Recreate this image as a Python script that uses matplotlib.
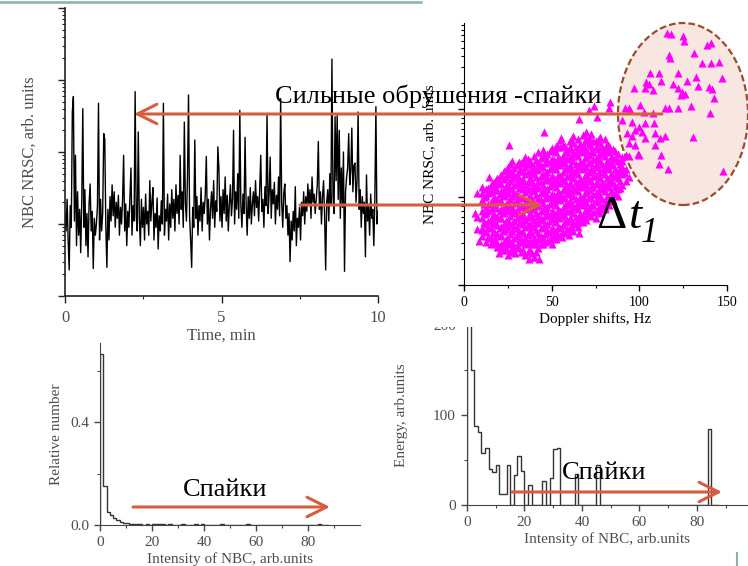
import numpy as np
import matplotlib
matplotlib.use("Agg")
import matplotlib.pyplot as plt
from matplotlib.patches import Ellipse, Rectangle, FancyArrowPatch
from matplotlib.lines import Line2D
from matplotlib.ticker import NullFormatter, MultipleLocator, FixedLocator

plt.rcParams["font.family"] = ["Liberation Serif", "DejaVu Serif"]

# NBC NRSC record, 300 samples over 10 min (arb. units, log axis)
nbc_time = [
    14, 8, 22, 6, 2.3, 18, 9, 360, 590, 11, 90, 5, 28, 7, 16, 4, 20, 400, 9, 30,
    5, 14, 3.5, 19, 36, 8, 15, 2.4, 12, 7,
    10, 18, 475, 6, 22, 8, 14, 180, 150, 9, 2.5, 16, 6, 24, 11, 35, 13, 28, 9, 20,
    12, 25, 7, 17, 10, 22, 90, 8, 19, 5,
    15, 9, 24, 60, 7, 18, 11, 690, 13, 8, 190, 12, 5, 22, 9, 17, 6, 26, 10, 15,
    7, 40, 11, 20, 32, 6, 14, 9, 23, 4.5,
    13, 8, 21, 10, 475, 7, 16, 11, 26, 6, 19, 9, 30, 12, 22, 8, 35, 14, 25, 10,
    90, 16, 28, 9, 260, 20, 11, 45, 620, 13,
    6, 2.5, 17, 9, 147, 12, 24, 7, 18, 11, 32, 8, 20, 14, 26, 87, 10, 22, 6, 16,
    28, 12, 40, 9, 21, 15, 118, 60, 11, 24,
    9, 30, 14, 45, 11, 25, 8, 19, 35, 13, 22, 200, 10, 28, 16, 50, 12, 380, 18, 9,
    26, 14, 160, 20, 7, 24, 12, 32, 10, 19,
    28, 13, 40, 17, 24, 11, 30, 90, 15, 22, 9, 33, 18, 345, 14, 26, 85, 12, 30, 19,
    38, 10, 25, 16, 45, 13, 550, 20, 9, 27,
    36, 12, 18, 7, 14, 3.0, 11, 6, 15, 8, 33, 5, 12, 9, 17, 6, 20, 13, 28, 10,
    24, 15, 36, 18, 30, 12, 45, 20, 26, 14,
    22, 35, 140, 16, 28, 10, 24, 40, 13, 2.3, 20, 30, 11, 50, 18, 1950, 25, 14, 310, 40,
    325, 22, 200, 12, 60, 17, 100, 2.2, 28, 45,
    60, 180, 35, 55, 215, 28, 65, 70, 20, 40, 360, 16, 30, 9, 24, 14, 20, 3.5, 48, 11,
    18, 7, 26, 12, 16, 5, 22, 425, 10, 15,
]
time_min = np.linspace(0, 10, len(nbc_time))

# main cloud of the scatter: Doppler shift (Hz) -> NBC NRSC values
blob_columns = {
    7.5: [4.3, 6.0],
    10.3: [3.6, 4.4, 5.8, 7.0, 9.2, 11.0],
    12.4: [3.1, 4.1, 4.9, 6.5, 7.7, 10.3, 12.2],
    15.2: [2.9, 3.4, 4.6, 5.5, 7.3, 8.7, 11.5, 13.8],
    17.4: [3.3, 3.9, 5.1, 6.1, 8.1, 9.8, 12.9, 15.4],
    20.3: [2.7, 3.6, 4.4, 5.8, 6.9, 9.1, 10.9, 14.5, 17.4],
    22.6: [2.5, 3.1, 4.1, 4.9, 6.5, 7.7, 10.3, 12.3, 16.2, 19.5],
    25.1: [2.2, 2.9, 3.4, 4.6, 5.4, 7.3, 8.7, 11.5, 13.8, 18.2, 21.8],
    27.3: [2.6, 3.1, 4.1, 4.9, 6.5, 7.7, 10.3, 12.2, 16.3, 19.4, 25.5],
    30.2: [2.8, 3.6, 4.4, 5.8, 6.9, 9.1, 10.9, 14.5, 17.3, 23.0],
    32.6: [2.4, 3.3, 3.9, 5.2, 6.1, 8.1, 9.7, 12.9, 15.4, 20.5, 24.4],
    34.8: [2.2, 2.9, 3.4, 4.6, 5.5, 7.3, 8.6, 11.5, 13.7, 18.3, 21.7, 28.8],
    37.6: [2.5, 3.2, 4.1, 4.9, 6.5, 7.7, 10.3, 12.2, 16.3, 19.4, 25.8],
    40.1: [2.1, 2.9, 3.4, 4.6, 5.5, 7.3, 8.6, 11.6, 13.7, 18.4, 21.7, 29],
    42.4: [2.6, 3.3, 3.9, 5.2, 6.1, 8.2, 9.7, 13, 15.4, 20.6, 24.3, 32.5],
    45.2: [2.9, 3.4, 4.6, 5.5, 7.3, 8.6, 11.6, 13.7, 18.4, 21.7, 29, 34.4],
    47.3: [3.2, 4.1, 4.9, 6.5, 7.7, 10.3, 12.2, 16.4, 19.3, 25.9, 30.6],
    50.1: [2.9, 3.6, 4.4, 5.8, 6.9, 9.2, 10.8, 14.6, 17.2, 23.1, 27.3, 36.5],
    52.7: [3.3, 3.9, 5.2, 6.1, 8.2, 9.7, 13, 15.3, 20.6, 24.3, 32.7, 38.5],
    54.9: [3.6, 4.4, 5.8, 6.9, 9.2, 10.8, 14.6, 17.2, 23.1, 27.2, 36.6, 44],
    57.6: [3.9, 5.2, 6.1, 8.2, 9.7, 13, 15.3, 20.6, 24.3, 32.7, 38.4],
    60.2: [4.4, 5.8, 6.9, 9.2, 10.8, 14.6, 17.2, 23.1, 27.2, 36.7, 43],
    62.4: [4.1, 4.9, 6.5, 7.7, 10.3, 12.2, 16.4, 19.3, 25.9, 30.6, 41, 49],
    65.1: [4.6, 5.5, 7.3, 8.6, 11.6, 13.7, 18.4, 21.7, 29, 34.3, 46],
    67.6: [5.2, 6.1, 8.2, 9.7, 13, 15.3, 20.6, 24.3, 32.7, 38.4, 51],
    69.8: [5.5, 7.3, 8.6, 11.6, 13.7, 18.4, 21.7, 29.1, 34.3, 46, 55],
    72.5: [6.1, 8.2, 9.7, 13, 15.3, 20.6, 24.3, 32.7, 38.4, 51.5],
    75.3: [5.8, 6.9, 9.2, 10.8, 14.6, 17.2, 23.1, 27.2, 36.7, 43],
    77.4: [6.5, 7.7, 10.3, 12.2, 16.4, 19.3, 25.9, 30.6, 41, 48.5],
    80.2: [7.3, 8.6, 11.6, 13.7, 18.4, 21.7, 29.1, 34.3, 45.5],
    82.6: [8.2, 9.7, 13, 15.3, 20.6, 24.3, 32.7, 38.4],
    84.9: [9.2, 10.8, 14.6, 17.2, 23.1, 27.2, 35.5],
    87.7: [10.3, 12.2, 16.4, 19.3, 25.9, 30.5],
    90.2: [13.7, 18.4, 21.7, 28.5],
    92.4: [15.3, 20.6],
}

# denser core of the same cloud
core_columns = {
    11.3: [4.0, 5.2, 6.4, 8.3, 10.0],
    13.8: [3.5, 4.4, 5.4, 7.0, 8.4, 11.0, 12.8],
    16.3: [3.2, 4.0, 5.0, 6.2, 7.8, 9.6, 12.0, 14.6],
    18.8: [3.0, 3.8, 4.8, 6.0, 7.6, 9.4, 12.0, 15.0, 16.5],
    21.3: [2.9, 3.7, 4.6, 5.8, 7.3, 9.0, 11.6, 14.2, 17.8],
    23.8: [2.6, 3.3, 4.3, 5.3, 6.9, 8.4, 10.8, 13.4, 17.0, 20.5],
    26.3: [2.4, 3.1, 3.8, 4.9, 6.1, 8.0, 9.6, 12.6, 15.2, 19.8, 23.5],
    28.8: [2.7, 3.4, 4.4, 5.4, 7.0, 8.6, 11.2, 13.8, 18.0, 21.6],
    31.3: [2.6, 3.2, 4.1, 5.0, 6.5, 7.9, 10.2, 12.5, 16.3, 19.8, 25.0],
    33.8: [2.5, 3.1, 4.0, 4.9, 6.4, 7.8, 10.0, 12.2, 16.0, 19.5, 25.5],
    36.3: [2.4, 3.0, 3.7, 4.8, 6.0, 7.6, 9.5, 12.3, 15.0, 19.0, 23.8, 27.0],
    38.8: [2.3, 2.9, 3.8, 4.7, 5.9, 7.4, 9.4, 12.0, 14.9, 19.2, 23.3],
    41.3: [2.4, 3.1, 4.2, 5.0, 6.6, 8.0, 10.6, 12.8, 17.0, 20.1, 26.6],
    43.8: [2.9, 3.6, 4.5, 5.8, 7.0, 9.3, 11.0, 14.7, 17.5, 23.0, 27.6],
    46.3: [3.1, 3.8, 4.8, 6.1, 7.5, 9.8, 11.8, 15.5, 18.5, 24.5, 29.5],
    48.8: [3.3, 4.0, 5.3, 6.3, 8.4, 10.0, 13.4, 15.8, 21.0, 25.0, 33.0],
    51.3: [3.5, 4.2, 5.6, 6.6, 8.8, 10.5, 14.0, 16.6, 22.0, 26.2, 34.5],
    53.8: [3.7, 4.6, 6.0, 7.1, 9.5, 11.3, 15.0, 17.8, 23.5, 28.0, 37.0],
    56.3: [4.0, 4.8, 6.4, 7.6, 10.1, 12.0, 16.0, 19.0, 25.0, 29.5, 39.5],
    58.8: [4.3, 5.3, 7.0, 8.3, 11.0, 13.1, 17.5, 20.6, 27.5, 32.5],
    61.3: [4.7, 5.6, 7.4, 8.8, 11.9, 14.0, 18.8, 22.2, 29.6, 35.0, 45],
    63.8: [5.0, 6.0, 8.0, 9.5, 12.7, 15.0, 20.1, 23.8, 31.6, 37.5],
    66.3: [5.3, 6.4, 8.6, 10.1, 13.5, 16.0, 21.3, 25.3, 33.8, 40.0],
    68.8: [5.9, 7.0, 9.3, 11.0, 14.7, 17.4, 23.2, 27.5, 36.5, 43.0],
    71.3: [6.4, 7.6, 10.1, 12.0, 16.0, 19.0, 25.3, 30.0, 40.0, 47.0],
    73.8: [6.8, 8.2, 10.9, 13.0, 17.3, 20.5, 27.3, 32.4, 43.0],
    76.3: [7.3, 8.8, 11.7, 13.9, 18.5, 22.0, 29.3, 34.8, 44.5],
    78.8: [7.8, 9.4, 12.5, 14.9, 19.8, 23.5, 31.3, 37.0],
    81.3: [8.6, 10.3, 13.7, 16.3, 21.6, 25.7, 34.2, 40.5],
    83.8: [9.7, 11.6, 15.4, 18.3, 24.3, 28.8],
    86.3: [11.0, 13.2, 17.5, 20.8, 27.6, 33.0],
    88.8: [12.8, 15.3, 20.3, 24.0],
}

# loose points around the cloud edge
edge_hz = [6.5, 8.4, 19.8, 21.7, 29.3, 36.9, 39.7, 56, 59.7, 65.4, 64.4,
           25.5, 45.4, 55.3, 65.4, 71.1, 74.0, 82.5, 83.5, 75.9,
           7.4, 10.3, 14.0, 10.3, 18.8, 27.4, 42.6, 93.9, 90.1, 87.3, 84.4, 80.6]
edge_nbc = [6.5, 3.2, 2.3, 2.5, 2.3, 2.0, 2.06, 3.5, 3.7, 3.9, 5.0,
            39, 55, 47, 78, 97, 108, 102, 121, 81,
            11, 13, 17, 4.2, 2.7, 2.5, 2.0, 17, 19.5, 13, 8.9, 7.8]

# strong events (spikes), upper right of the cloud
spike_hz = [115.8, 118.3, 124.7, 125.3, 138.6, 141.1, 116.7, 117.3, 131.0, 135.7,
            141.1, 145.2, 121.9, 147.1, 106.3, 111.0, 104.0, 105.7, 112.4, 119.0,
            127.4, 132.3, 133.7, 139.9, 141.4, 97.1, 103.0, 107.8, 121.9, 124.3,
            125.9, 123.6, 142.8, 100.2, 93.9, 91.6, 94.9, 102.5, 108.0, 114.8,
            116.7, 121.9, 129.7, 140.1, 90.1, 95.8, 99.6, 103.4, 108.2, 97.7,
            101.5, 93.2, 108.7, 95.8, 103.0, 114.8, 112.0, 130.6, 109.1, 93.9,
            97.3, 99.0, 99.6, 92.6, 94.3, 112.5, 111.4, 116.3, 147.5, 90.1,
            89.5, 92.0]
spike_nbc = [740, 710, 675, 600, 535, 560, 410, 385, 435, 330,
             335, 340, 260, 223, 255, 260, 204, 195, 210, 195,
             210, 233, 182, 180, 167, 172, 172, 165, 172, 158,
             148, 144, 135, 111, 102, 104, 97, 93, 91, 104,
             102, 102, 108, 91, 75, 72, 63, 69, 70, 58,
             55, 53, 53, 50, 47, 49, 47, 48, 39, 41,
             39, 31, 30, 30, 29, 30, 24, 20.6, 20, 26,
             22, 18.6]

# histograms, bin width 1.25 arb. units
bin_width = 1.25
relative_number = [
    0.665, 0.152, 0.052, 0.039, 0.026, 0.019, 0.013, 0.009, 0.0065, 0.004,
    0.003, 0.002, 0.002, 0.0015, 0.003, 0.001, 0.002, 0.003, 0.002, 0.003,
    0.001, 0.002, 0.001, 0, 0.001, 0.002, 0.001, 0, 0.001, 0.002,
    0.001, 0.002, 0, 0.001, 0, 0, 0.001, 0.002, 0, 0,
    0, 0, 0, 0, 0.001, 0.002, 0, 0, 0, 0,
    0, 0, 0, 0, 0, 0, 0, 0, 0, 0,
    0, 0, 0, 0, 0, 0, 0, 0.002, 0, 0,
]
energy = [
    320, 150, 88, 81, 58, 63, 40, 37, 44, 12,
    12, 44, 0, 33, 55, 38, 0, 22, 0, 0,
    0, 27, 0, 30, 62, 63, 0, 0, 0, 0,
    35, 0, 0, 0, 0, 0, 45, 0, 0, 0,
    0, 0, 0, 0, 0, 0, 0, 0, 0, 0,
    0, 0, 0, 0, 0, 0, 0, 0, 0, 0,
    0, 0, 0, 0, 0, 0, 0, 85, 0, 0,
]

W, H = 748, 566


def fig_xy(x, y):
    # pixel position (from top-left) -> figure fraction
    return x / W, 1 - y / H


def fig_rect(x0, y0, x1, y1):
    return [x0 / W, 1 - y1 / H, (x1 - x0) / W, (y1 - y0) / H]


arrow_color = "#D65E3E"
gray = "#4d4d4d"

fig = plt.figure(figsize=(W / 100, H / 100), dpi=100)

ax1 = fig.add_axes(fig_rect(65, 8, 378, 296))
ax2 = fig.add_axes(fig_rect(464, 23, 727, 285))
ax3 = fig.add_axes(fig_rect(100, 343, 360, 525))
ax4 = fig.add_axes(fig_rect(467, 325, 747, 505))
ax2.set_zorder(2)

for ax in (ax1, ax2, ax3, ax4):
    ax.spines["top"].set_visible(False)
    ax.spines["right"].set_visible(False)

# --- time record
ax1.plot(time_min, nbc_time, color="black", lw=1.0)
ax1.set_yscale("log")
ax1.set_xlim(0, 10)
ax1.set_ylim(1, 1e4)
ax1.yaxis.set_major_formatter(NullFormatter())
ax1.yaxis.set_minor_formatter(NullFormatter())
ax1.set_xticks([0, 5, 10])
ax1.xaxis.set_minor_locator(FixedLocator([2.5, 7.5]))
ax1.tick_params(which="major", length=5, width=1, colors="#222", labelcolor=gray, labelsize=12, pad=5)
ax1.tick_params(which="minor", length=2.5, width=0.8, colors="#222")
ax1.set_xlabel("Time, min", fontsize=12, color=gray, labelpad=1)
ax1.set_ylabel("NBC NRSC, arb. units", fontsize=12, color=gray, labelpad=10)
for s in ("left", "bottom"):
    ax1.spines[s].set_linewidth(1.2)
    ax1.spines[s].set_color("#222")

# --- scatter
cloud = list(blob_columns.items()) + list(core_columns.items())
hz = [h for h, vals in cloud for _ in vals] + edge_hz + spike_hz
nbc = [v for _, vals in cloud for v in vals] + edge_nbc + spike_nbc
ax2.add_patch(Ellipse(fig_xy(683, 114), 130 / W, 182 / H, transform=fig.transFigure,
                      facecolor="#F8E7E1", edgecolor="#9A4B30", lw=1.6,
                      linestyle=(0, (3, 1.4)), clip_on=False, zorder=1))
ax2.scatter(hz, nbc, marker="^", s=34, color="#FF00FF", linewidths=0, zorder=2)
ax2.set_yscale("log")
ax2.set_xlim(0, 150)
ax2.set_ylim(1, 950)
ax2.yaxis.set_major_formatter(NullFormatter())
ax2.yaxis.set_minor_formatter(NullFormatter())
ax2.set_xticks([0, 50, 100, 150])
ax2.xaxis.set_minor_locator(MultipleLocator(25))
ax2.tick_params(which="major", length=4, width=1, labelsize=10, pad=4)
ax2.tick_params(which="minor", length=2, width=0.8)
ax2.set_xlabel("Doppler shifts, Hz", fontsize=11, labelpad=2)
ax2.set_ylabel("NBC NRSC, arb. units", fontsize=11, labelpad=12)

# --- histograms
edges1 = np.arange(len(relative_number) + 1) * bin_width
ax3.stairs(relative_number, edges1, color="#333", lw=1.0)
ax3.set_xlim(0, 100)
ax3.set_ylim(0, 0.708)
ax3.set_yticks([0.0, 0.4])
ax3.set_yticklabels(["0.0", "0.4"])
ax3.yaxis.set_minor_locator(FixedLocator([0.2, 0.6]))
ax3.set_xticks([0, 20, 40, 60, 80])
ax3.xaxis.set_minor_locator(FixedLocator([10, 30, 50, 70, 90]))
ax3.set_xlabel("Intensity of NBC, arb.units", fontsize=11, color=gray, labelpad=2)
ax3.set_ylabel("Relative number", fontsize=11, color=gray, labelpad=5)

edges2 = np.arange(len(energy) + 1) * bin_width
ax4.stairs(energy, edges2, color="#333", lw=1.0)
ax4.set_xlim(0, 97.4)
ax4.set_ylim(0, 200)
ax4.set_yticks([0, 100, 200])
ax4.yaxis.set_minor_locator(FixedLocator([50, 150]))
ax4.set_xticks([0, 20, 40, 60, 80])
ax4.xaxis.set_minor_locator(FixedLocator([10, 30, 50, 70, 90]))
ax4.set_xlabel("Intensity of NBC, arb.units", fontsize=11, color=gray, labelpad=2)
ax4.set_ylabel("Energy, arb.units", fontsize=11, color=gray, labelpad=18)

for ax in (ax3, ax4):
    ax.tick_params(which="major", length=4, width=1, colors="#444", labelcolor=gray, labelsize=11, pad=4)
    ax.tick_params(which="minor", length=2.5, width=0.8, colors="#444")
    for s in ("left", "bottom"):
        ax.spines[s].set_color("#444")

# the scatter panel sits over the top of the energy panel
fig.add_artist(Rectangle(fig_xy(392, 327), 1 - 392 / W, 327 / H, transform=fig.transFigure,
                         facecolor="white", edgecolor="none", zorder=1))

# --- annotations
def arrow(x0, y0, x1, y1):
    fig.add_artist(FancyArrowPatch(fig_xy(x0, y0), fig_xy(x1, y1), transform=fig.transFigure,
                                   arrowstyle="->,head_length=1.4,head_width=0.7",
                                   mutation_scale=10, color=arrow_color, lw=2.2,
                                   shrinkA=0, shrinkB=0, zorder=6))


arrow(662, 114, 134, 114)
arrow(300, 205, 542, 205)
arrow(133, 507, 330, 507)
arrow(512, 492, 722, 492)

fig.text(*fig_xy(275, 96), "Сильные обрушения -спайки", fontsize=19, va="center", ha="left", zorder=7)
fig.text(*fig_xy(183, 490), "Спайки", fontsize=19, va="center", ha="left", zorder=7)
fig.text(*fig_xy(562, 473), "Спайки", fontsize=19, va="center", ha="left", zorder=7)
fig.text(*fig_xy(596, 228), "Δ", fontsize=34, va="baseline", ha="left", zorder=7)
fig.text(*fig_xy(629, 228), "t", fontsize=34, style="italic", va="baseline", ha="left", zorder=7)
fig.text(*fig_xy(641, 242), "1", fontsize=25, style="italic", va="baseline", ha="left", zorder=7)

# slide decorations
fig.add_artist(Line2D([0, 421 / W], [1 - 2 / H] * 2, transform=fig.transFigure,
                      color="#8FAFAD", lw=1.8, zorder=8))
fig.add_artist(Line2D([737 / W] * 2, [0, 13 / H], transform=fig.transFigure,
                      color="#8FAFAD", lw=1.5, zorder=8))

fig.savefig("out.png", dpi=100)
